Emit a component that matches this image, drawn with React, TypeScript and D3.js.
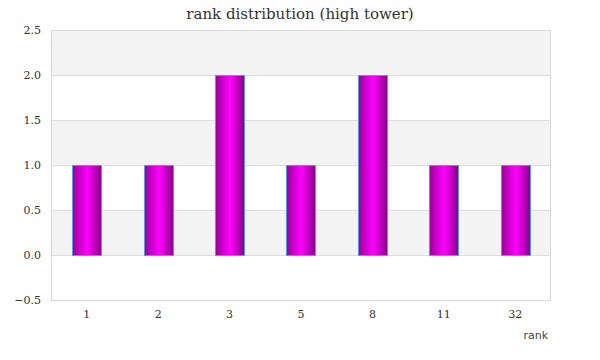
import React from "react";
import * as d3 from "d3";

const categories = ["1", "2", "3", "5", "8", "11", "32"];
const counts = [1, 1, 2, 1, 2, 1, 1];
const yTicks = [-0.5, 0, 0.5, 1.0, 1.5, 2.0, 2.5];
const title = "rank distribution (high tower)";
const xTitle = "rank";

export default function App() {
  const W = 600, H = 360;
  const m = { left: 51, right: 49, top: 30, bottom: 60 };
  const x = d3.scaleBand<string>().domain(categories).range([m.left, W - m.right]).paddingInner(0).paddingOuter(0);
  const y = d3.scaleLinear().domain([-0.5, 2.5]).range([H - m.bottom, m.top]);
  const bw = x.bandwidth() * 0.41;
  const bands = yTicks.slice(0, -1).map((v, i) => ({ v0: v, v1: yTicks[i + 1], shaded: i % 2 === 1 }));
  return (
    <svg width={W} height={H} style={{ position: "absolute", left: 0, top: 0 }}>
      <defs>
        <linearGradient id="barGrad" x1="0" x2="1" y1="0" y2="0">
          <stop offset="0%" stopColor="#990099" />
          <stop offset="50%" stopColor="#ff00ff" />
          <stop offset="100%" stopColor="#880088" />
        </linearGradient>
      </defs>
      <rect x={0} y={0} width={W} height={H} fill="#fff" />
      {bands.map((b, i) => (
        <rect key={i} x={m.left} width={W - m.right - m.left} y={y(b.v1)} height={y(b.v0) - y(b.v1)} fill={b.shaded ? "#f3f3f3" : "#fff"} />
      ))}
      {yTicks.map((t) => (
        <line key={t} x1={m.left} x2={W - m.right} y1={Math.round(y(t)) + 0.5} y2={Math.round(y(t)) + 0.5} stroke="#dddddd" />
      ))}
      <rect x={m.left + 0.5} y={m.top + 0.5} width={W - m.right - m.left - 1} height={H - m.bottom - m.top} fill="none" stroke="#d8d8d8" />
      {categories.map((c, i) => {
        const cx = (x(c) as number) + x.bandwidth() / 2;
        const y0 = y(0), y1 = y(counts[i]);
        return (
          <rect key={c} x={Math.round(cx - bw / 2) + 0.5} y={Math.round(y1) + 0.5} width={Math.round(bw)} height={Math.round(y0 - y1)} fill="url(#barGrad)" stroke="#4b9fe6" strokeWidth={1} />
        );
      })}
      {yTicks.map((t) => (
        <text key={t} x={41} y={y(t) + 4} textAnchor="end" fontFamily="DejaVu Serif" fontSize={11} fill="#333">{d3.format(".1f")(t)}</text>
      ))}
      {categories.map((c) => (
        <text key={c} x={(x(c) as number) + x.bandwidth() / 2} y={318} textAnchor="middle" fontFamily="DejaVu Serif" fontSize={11} fill="#333">{c}</text>
      ))}
      <text x={W / 2} y={19} textAnchor="middle" fontFamily="DejaVu Serif" fontSize={15} fill="#333">{title}</text>
      <text x={548} y={339} textAnchor="end" fontFamily="DejaVu Sans" fontSize={11} fill="#444">{xTitle}</text>
    </svg>
  );
}
